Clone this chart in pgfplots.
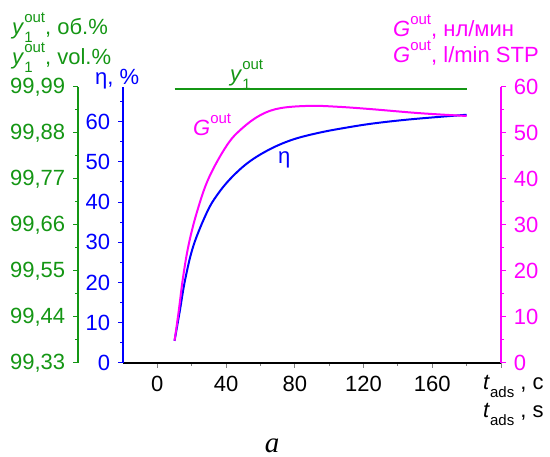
\documentclass[border=0pt]{standalone}
\usepackage{fontspec}
\setmainfont{Liberation Sans}
\newfontfamily\seriffont{Liberation Serif}
\usepackage{pgfplots}
\pgfplotsset{compat=1.18}
\definecolor{cgreen}{RGB}{20,150,20}
\definecolor{cblue}{RGB}{0,0,255}
\definecolor{cmag}{RGB}{255,0,255}
\newcommand\supsub[2]{\rlap{\raisebox{-0.32em}{\fontsize{15bp}{15bp}\selectfont #2}}\raisebox{0.55em}{\fontsize{15bp}{15bp}\selectfont #1}}
\newcommand\sub[1]{\raisebox{-0.32em}{\fontsize{15bp}{15bp}\selectfont #1}}
\begin{document}
\fontsize{22bp}{26bp}\selectfont
\begin{tikzpicture}[x=1bp,y=1bp]
\path[use as bounding box] (0,0) rectangle (550,457);
\pgfplotsset{every axis/.append style={scale only axis, height=276bp,
  /pgf/number format/assume math mode=true,
  major tick length=5bp, minor tick length=3bp, tick align=outside,
  clip=false, line width=1.1bp, every tick/.append style={line width=1bp}}}
% green outer axis
\begin{axis}[at={(78bp,94bp)}, anchor=south west, width=423bp,
  xmin=-46.2, xmax=200, ymin=99.33, ymax=99.99,
  axis x line=none, axis y line*=left,
  ytick={99.33,99.44,99.55,99.66,99.77,99.88,99.99},
  minor ytick={99.385,99.495,99.605,99.715,99.825,99.935},
  scaled y ticks=false,
  yticklabel style={cgreen, /pgf/number format/.cd, fixed, fixed zerofill, precision=2, use comma},
  y axis line style={cgreen}, ytick style={cgreen}]
\addplot[cgreen, line width=2bp] coordinates {(10,99.985) (180,99.985)};
\end{axis}
% main axis (eta)
\begin{axis}[at={(123bp,94bp)}, anchor=south west, width=378bp,
  xmin=-20, xmax=200, ymin=0, ymax=68.6,
  axis x line*=bottom, axis y line*=left,
  xtick={0,40,80,120,160,200}, xticklabels={0,40,80,120,160,{}},
  minor xtick={20,60,100,140,180},
  ytick={0,10,20,30,40,50,60}, minor ytick={5,15,25,35,45,55,65},
  yticklabel style={cblue}, y axis line style={cblue}, ytick style={cblue}]
\addplot[cblue, line width=2bp, smooth, tension=0.6] coordinates {
(10,5.5) (13.0,12.8) (16.3,21.0) (21.1,29.3) (28.9,37.5) (34.7,41.7)
(42.5,45.8) (53.1,49.9) (65.8,53.2) (79.3,55.6) (94.9,57.3) (110,58.5)
(125,59.5) (143.4,60.4) (162,61.1) (180,61.7)};
\end{axis}
% right axis (G)
\begin{axis}[at={(123bp,94bp)}, anchor=south west, width=378bp,
  xmin=-20, xmax=200, ymin=0, ymax=60,
  axis x line=none, axis y line*=right,
  ytick={0,10,20,30,40,50,60}, minor ytick={5,15,25,35,45,55},
  yticklabel style={cmag}, y axis line style={cmag}, ytick style={cmag}]
\addplot[cmag, line width=2bp, smooth, tension=0.6] coordinates {
(10,4.85) (12.4,11.2) (14.9,18.5) (18.2,25.7) (23.1,32.9) (29.9,40.2)
(40.6,47.4) (49.3,51.0) (60,53.9) (71.6,55.4) (89,55.9) (105,55.7)
(124,55.2) (153,54.3) (180,53.7)};
\end{axis}
% texts
\node[anchor=base west, inner sep=0, cgreen] at (12,422) {\textit{y}\supsub{out}{1}, об.\%};
\node[anchor=base west, inner sep=0, cgreen] at (12,392) {\textit{y}\supsub{out}{1}, vol.\%};
\node[anchor=base west, inner sep=0, cblue] at (95,372) {η, \%};
\node[anchor=base west, inner sep=0, cmag] at (393,420) {\textit{G}\raisebox{0.55em}{\fontsize{15bp}{15bp}\selectfont out}, нл/мин};
\node[anchor=base west, inner sep=0, cmag] at (393,394) {\textit{G}\raisebox{0.55em}{\fontsize{15bp}{15bp}\selectfont out}, l/min STP};
\node[anchor=base west, inner sep=0] at (483,67) {\textit{t}\sub{ads} , c};
\node[anchor=base west, inner sep=0] at (483,39) {\textit{t}\sub{ads} , s};
\node[anchor=base, inner sep=0] at (272,4) {\seriffont\fontsize{29bp}{30bp}\selectfont\textit{a}};
\node[anchor=base west, inner sep=0, cgreen] at (230,375) {\textit{y}\supsub{out}{1}};
\node[anchor=base west, inner sep=0, cmag] at (193,321) {\textit{G}\raisebox{0.55em}{\fontsize{15bp}{15bp}\selectfont out}};
\node[anchor=base west, inner sep=0, cblue] at (278,293) {η};
\end{tikzpicture}
\end{document}
